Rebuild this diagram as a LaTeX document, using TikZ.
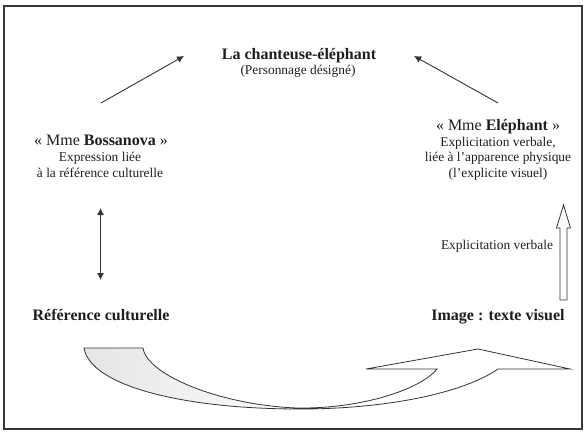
\documentclass[tikz,border=0pt]{standalone}
\usepackage{fontspec}
\setmainfont{Liberation Serif}
\usetikzlibrary{arrows.meta}
\definecolor{ink}{HTML}{1E1E1E}
\definecolor{linec}{HTML}{333333}
\tikzset{
  big/.style={font=\fontsize{16}{19}\selectfont, text=ink, inner sep=0pt, anchor=base},
  small/.style={font=\fontsize{13.4}{16}\selectfont, text=ink, inner sep=0pt, anchor=base},
  conn/.style={draw=linec, line width=0.9pt, -{Latex[length=7pt,width=7pt]}},
  dconn/.style={draw=linec, line width=0.9pt, {Latex[length=7pt,width=7pt]}-{Latex[length=7pt,width=7pt]}},
  frame/.style={draw=black!78, line width=1.5pt},
  hollow/.style={draw=black!80, line width=0.8pt, fill=white},
  bigarrow/.style={draw=black!80, line width=0.8pt}
}
\def\curvedarrowpath{(84,348) -- (143,348)
  .. controls (147,375) and (220,405) .. (297,408)
  .. controls (360,409) and (420,390) .. (437,369)
  -- (366,369) -- (478,349) -- (570,369) -- (498,369)
  .. controls (460,395) and (380,409) .. (300,409)
  .. controls (180,409) and (90,385) .. (84,348) -- cycle}
\begin{document}
\begin{tikzpicture}[x=1pt,y=-1pt]
\useasboundingbox (0,0) rectangle (585,433);
\draw[frame] (4,6) rectangle (582,429);

% top
\node[big] (title) at (299,60) {\bfseries La chanteuse-éléphant};
\node[small] (sub) at (298,75) {(Personnage désigné)};

% left column
\node[big] (boss) at (101,145) {« Mme \textbf{Bossanova} »};
\node[small] (boss2) at (100,161) {Expression liée};
\node[small] (boss3) at (100,177.5) {à la référence culturelle};
\node[big] (ref) at (101,320) {\bfseries Référence culturelle};

% right column
\node[big] (ele) at (498,130) {« Mme \textbf{Eléphant} »};
\node[small] (ele2) at (498,146) {Explicitation verbale,};
\node[small] (ele3) at (498,161.5) {liée à l’apparence physique};
\node[small] (ele4) at (498,177) {(l’explicite visuel)};
\node[small] (expl) at (497,249.5) {Explicitation verbale};
\node[big] (img) at (498,320) {\bfseries Image : texte visuel};

% connector endpoints
\coordinate (lA) at (101,103);
\coordinate (lB) at (184,56);
\coordinate (rA) at (498,103);
\coordinate (rB) at (414,56);
\coordinate (dA) at (100.5,208);
\coordinate (dB) at (100.5,280);

\draw[conn] (lA) -- (lB);
\draw[conn] (rA) -- (rB);
\draw[dconn] (dA) -- (dB);

% hollow upward arrow
\coordinate (hb) at (563.5,300);
\coordinate (ht) at (563.5,205);
\draw[hollow] (560,300) -- (560,228) -- (556.5,228) -- (ht) -- (570.5,228) -- (567,228) -- (567,300) -- cycle;

% bottom curved arrow
\begin{scope}
  \clip \curvedarrowpath;
  \fill[white] (80,340) rectangle (575,415);
  \shade[left color=black!10, right color=white] (84,340) rectangle (320,415);
\end{scope}
\draw[bigarrow] \curvedarrowpath;
\end{tikzpicture}
\end{document}
